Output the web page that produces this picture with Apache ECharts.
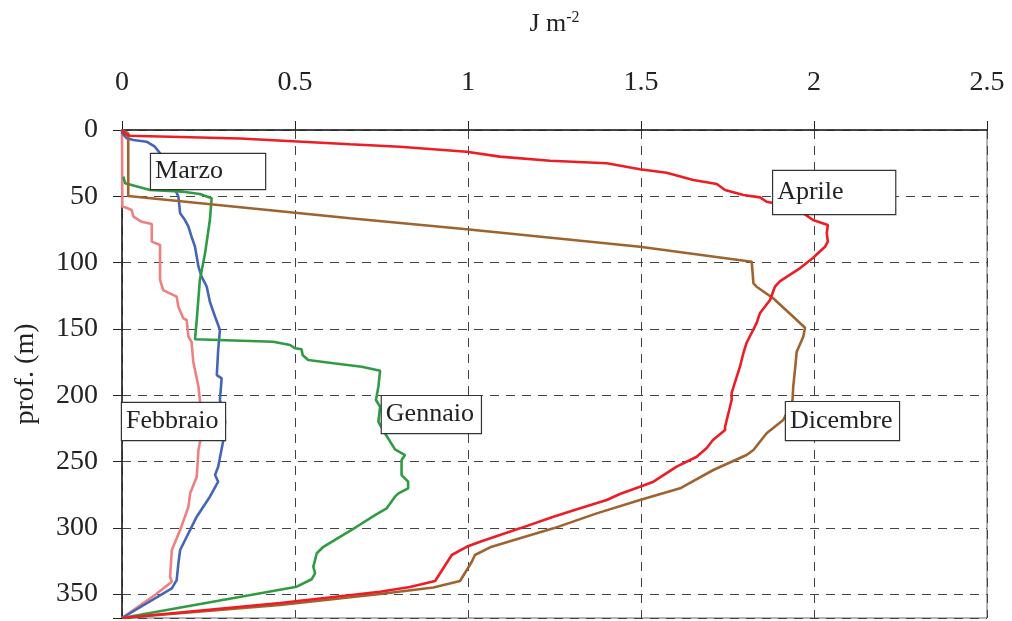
<!DOCTYPE html>
<html>
<head>
<meta charset="utf-8">
<script src="https://cdn.jsdelivr.net/npm/echarts@6/dist/echarts.min.js"></script>
<style>
  html, body { margin: 0; padding: 0; background: #fff; }
  #main { width: 1012px; height: 621px; }
</style>
</head>
<body>
<div id="main"></div>
<script>
// profili: [J m-2, profondita m]
var febbraio = [[0,0],[0.001,57.8],[0.009,58.3],[0.028,60.3],[0.033,65.4],[0.057,69.2],[0.086,70.9],[0.086,84.2],[0.110,86.7],[0.110,113.1],[0.119,120.7],[0.158,125.7],[0.163,133.3],[0.177,142.0],[0.187,143.3],[0.192,155.9],[0.201,159.7],[0.206,174.7],[0.221,193.6],[0.225,203.6],[0.230,228.7],[0.221,241.3],[0.216,261.5],[0.197,274.0],[0.192,284.1],[0.168,301.7],[0.144,316.7],[0.139,336.9],[0.144,340.6],[0.095,350.7],[0,368]];
var marzo = [[0,0],[0.001,2.5],[0.014,6.3],[0.033,7.5],[0.071,8.8],[0.095,12.6],[0.110,17.6],[0.133,30.2],[0.153,44.5],[0.163,50.3],[0.168,62.8],[0.182,67.9],[0.192,72.9],[0.201,80.5],[0.211,88.0],[0.221,103.1],[0.230,110.6],[0.245,118.2],[0.254,129.5],[0.269,140.8],[0.278,147.1],[0.283,150.8],[0.278,165.9],[0.274,184.8],[0.288,187.3],[0.283,203.6],[0.298,220.0],[0.293,233.8],[0.278,253.9],[0.269,260.2],[0.278,265.2],[0.254,276.5],[0.216,291.6],[0.168,316.7],[0.163,326.8],[0.158,339.4],[0.144,345.6],[0,368]];
var gennaio = [[0.004,35.2],[0.009,40.2],[0.081,45.2],[0.177,46.5],[0.225,48.3],[0.259,51.5],[0.254,67.9],[0.240,93.0],[0.225,113.1],[0.216,143.3],[0.211,157.8],[0.437,159.7],[0.486,162.1],[0.500,164.6],[0.519,165.4],[0.522,169.7],[0.538,173.5],[0.611,175.9],[0.693,178.5],[0.746,181.5],[0.741,193.6],[0.734,203.6],[0.746,208.7],[0.741,220.0],[0.760,228.7],[0.789,240.8],[0.818,245.1],[0.808,248.9],[0.808,260.2],[0.827,265.2],[0.827,270.2],[0.799,274.0],[0.789,276.5],[0.765,285.3],[0.736,289.6],[0.678,299.2],[0.582,314.3],[0.563,319.2],[0.553,329.3],[0.558,334.3],[0.548,338.8],[0.505,344.4],[0,368]];
var dicembre = [[0,0],[0.018,2.5],[0.018,49.8],[0.659,66.6],[0.996,74.9],[1.497,88.0],[1.820,99.3],[1.825,115.6],[1.834,118.2],[1.882,126.9],[1.940,140.8],[1.974,149.1],[1.969,155.9],[1.950,167.2],[1.945,181.0],[1.940,193.6],[1.938,203.6],[1.921,213.7],[1.911,218.7],[1.863,228.7],[1.825,241.3],[1.805,245.1],[1.709,256.4],[1.613,270.2],[1.497,279.0],[1.372,289.1],[1.247,300.4],[1.150,307.9],[1.064,314.7],[1.020,320.5],[1.011,325.6],[0.977,340.1],[0.900,345.0],[0.746,349.9],[0.457,358.2],[0,368]];
var aprile = [[0,0],[0.009,3],[0.023,4.3],[0.341,6.4],[0.659,10.8],[0.803,12.6],[0.996,16.4],[1.092,20.1],[1.237,23.2],[1.401,25.1],[1.497,29.6],[1.574,32.2],[1.651,37.7],[1.719,40.7],[1.743,45.2],[1.796,49.0],[1.844,50.8],[1.863,54.1],[1.882,55.1],[1.974,63.6],[1.997,67.9],[2.040,71.6],[2.037,77.7],[2.040,84.2],[2.032,88.0],[2.012,92.8],[1.997,96.5],[1.960,104.1],[1.902,113.9],[1.887,118.2],[1.873,128.2],[1.844,138.0],[1.834,145.6],[1.805,160.6],[1.796,168.2],[1.786,178.5],[1.762,198.3],[1.762,203.6],[1.743,223.8],[1.743,226.2],[1.708,233.8],[1.690,239.8],[1.661,246.4],[1.603,253.9],[1.536,265.2],[1.497,269.0],[1.439,274.5],[1.401,279.0],[1.324,285.3],[1.247,291.6],[1.150,300.4],[1.035,310.5],[0.996,314.3],[0.953,320.5],[0.905,340.1],[0.832,344.6],[0.746,348.2],[0.457,356.7],[0,368]];

var mesi = ['Febbraio', 'Marzo', 'Gennaio', 'Dicembre', 'Aprile'];
var colori = ['#f27f7f', '#4565b6', '#2f9b43', '#9f6330', '#ee1d25'];
// posizione delle etichette (angolo sinistro, centro verticale) e dimensione del riquadro
var etichette = [[0, 219.8], [0.084, 31.3], [0.751, 214.6], [1.919, 219.5], [1.882, 47.1]];
var riquadri = [[103, 37], [114, 35], [99, 37], [113, 38], [122, 43]];
var dati = [febbraio, marzo, gennaio, dicembre, aprile];

var serif = 'Liberation Serif';
var myChart = echarts.init(document.getElementById('main'));

var series = [];
for (var i = 0; i < mesi.length; i++) {
	series.push({
		name: mesi[i],
		type: 'line',
		data: dati[i],
		symbol: 'none',
		animation: false,
		lineStyle: { color: colori[i], width: 2.6 },
		markPoint: {
			symbol: 'rect',
			symbolSize: 0,
			animation: false,
			data: [{
				coord: etichette[i],
				label: {
					show: true,
					position: 'right',
					distance: 0,
					formatter: mesi[i],
					fontFamily: serif,
					fontSize: 26,
					color: '#222',
					backgroundColor: '#fff',
					borderColor: '#333',
					borderWidth: 1.2,
					padding: [0, 0, 0, 4],
					width: riquadri[i][0] - 4,
					height: riquadri[i][1],
					lineHeight: riquadri[i][1],
					align: 'left',
					verticalAlign: 'middle'
				}
			}]
		}
	});
}

myChart.setOption({
	backgroundColor: '#fff',
	animation: false,
	grid: {
		left: 122, right: 25, top: 130, bottom: 3,
		show: true,
		borderColor: '#666',
		borderWidth: 1
	},
	xAxis: {
		type: 'value',
		position: 'top',
		min: 0,
		max: 2.5,
		interval: 0.5,
		name: '{a|J m}{b|-2}',
		nameLocation: 'middle',
		nameGap: 92,
		nameTextStyle: {
			rich: {
				a: { fontFamily: serif, fontSize: 26, color: '#222' },
				b: { fontFamily: serif, fontSize: 16, color: '#222', verticalAlign: 'top', padding: [0, 0, 12, 0] }
			}
		},
		axisLine: { lineStyle: { color: '#222', width: 1.5 } },
		axisTick: { show: true, length: 9, lineStyle: { color: '#222' } },
		axisLabel: { fontFamily: serif, fontSize: 28, color: '#222', margin: 33 },
		splitLine: { show: true, lineStyle: { color: '#444', type: [9, 7], width: 1 } }
	},
	yAxis: {
		type: 'value',
		inverse: true,
		min: 0,
		max: 368,
		interval: 50,
		name: 'prof. (m)',
		nameLocation: 'middle',
		nameGap: 82,
		nameTextStyle: { fontFamily: serif, fontSize: 28, color: '#222' },
		axisLine: { lineStyle: { color: '#222', width: 1.5 } },
		axisTick: { show: true, length: 9, lineStyle: { color: '#222' } },
		axisLabel: {
			fontFamily: serif, fontSize: 28, color: '#222', margin: 24,
			formatter: function (v) { return v % 50 === 0 ? String(v) : ''; }
		},
		splitLine: { show: true, lineStyle: { color: '#444', type: [9, 7], width: 1 } }
	},
	series: series
});
</script>
</body>
</html>
